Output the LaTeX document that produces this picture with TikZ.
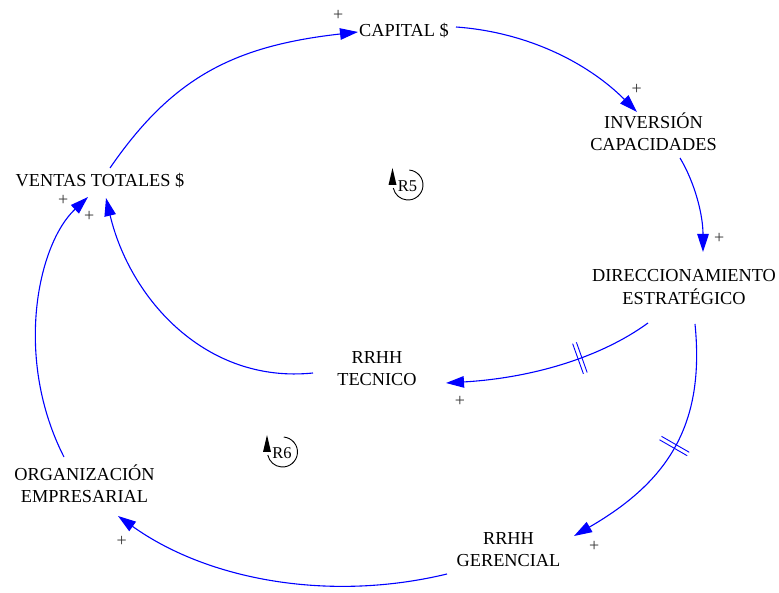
\documentclass[tikz,border=0pt]{standalone}
\usepackage{fontspec}
\setmainfont{Liberation Serif}
\usetikzlibrary{arrows.meta,decorations.markings}

\begin{document}
\begin{tikzpicture}[x=1pt,y=1pt,
  var/.style={font=\fontsize{18.3}{22.5}\selectfont, align=center, inner sep=0pt,
    text height=12.1pt, text=black},
  var2/.style={var, text height=34.6pt},
  link/.style={draw=blue, line width=1.1pt, -{Triangle[length=18pt,width=11.5pt]}},
  delay/.style={postaction={decorate, decoration={markings,
    mark=at position #1 with {\draw[-, blue, line width=0.9pt]
      (-2pt,-16pt) -- (-2pt,16pt) (2pt,-16pt) -- (2pt,16pt);}}}},
  pol/.style={font=\fontsize{18}{18}\selectfont, text=black!80, inner sep=0pt},
  looplbl/.style={font=\fontsize{16.5}{16.5}\selectfont, inner sep=0pt, text=black},
  loopline/.style={draw=black, line width=0.9pt}
]
\useasboundingbox (0,0) rectangle (779,592);

% variables
\node[var]  (capital)   at (404,561)     {CAPITAL \$};
\node[var2] (inversion) at (653.5,458.5) {INVERSIÓN\\CAPACIDADES};
\node[var]  (ventas)    at (100,410.5)   {VENTAS TOTALES \$};
\node[var2] (direcc)    at (684,305)     {DIRECCIONAMIENTO\\ESTRATÉGICO};
\node[var2] (tecnico)   at (377,223.5)   {RRHH\\TECNICO};
\node[var2] (organiz)   at (84.5,106.5)  {ORGANIZACIÓN\\EMPRESARIAL};
\node[var2] (gerencial) at (508.5,42.5)  {RRHH\\GERENCIAL};

% link end points, placed relative to the variables
\coordinate (s1) at ([shift={(10,13.5)}]ventas.center);
\coordinate (e1) at ([shift={(-46,-1)}]capital.center);
\coordinate (s2) at ([shift={(52,4)}]capital.center);
\coordinate (e2) at ([shift={(-16.5,21.5)}]inversion.center);
\coordinate (s3) at ([shift={(26.5,-24.5)}]inversion.center);
\coordinate (e3) at ([shift={(19,35)}]direcc.center);
\coordinate (s4) at ([shift={(-36,-36)}]direcc.center);
\coordinate (e4) at ([shift={(69,-14.5)}]tecnico.center);
\coordinate (s5) at ([shift={(11,-37)}]direcc.center);
\coordinate (e5) at ([shift={(65.5,13.5)}]gerencial.center);
\coordinate (s6) at ([shift={(-64,-4.5)}]tecnico.center);
\coordinate (e6) at ([shift={(6,-16.5)}]ventas.center);
\coordinate (s7) at ([shift={(-20.5,28.5)}]organiz.center);
\coordinate (e7) at ([shift={(-12,-15.5)}]ventas.center);
\coordinate (s8) at ([shift={(-61.5,-24.5)}]gerencial.center);
\coordinate (e8) at ([shift={(33.5,-30.5)}]organiz.center);

% causal links
\draw[link] (s1) .. controls ([shift={(62,90)}]s1) and ([shift={(-125,-14)}]e1) .. (e1);
\draw[link] (s2) .. controls ([shift={(70,-5)}]s2) and ([shift={(-50,50)}]e2) .. (e2);
\draw[link] (s3) .. controls ([shift={(15,-25)}]s3) and ([shift={(0,37)}]e3) .. (e3);
\draw[link, delay=0.36] (s4) .. controls ([shift={(-48,-35)}]s4) and ([shift={(85,5)}]e4) .. (e4);
\draw[link, delay=0.48] (s5) .. controls ([shift={(10,-100)}]s5) and ([shift={(95,55)}]e5) .. (e5);
\draw[link] (s6) .. controls ([shift={(-107,-11)}]s6) and ([shift={(24,-101)}]e6) .. (e6);
\draw[link] (s7) .. controls ([shift={(-50,98)}]s7) and ([shift={(-51,-48)}]e7) .. (e7);
\draw[link] (s8) .. controls ([shift={(-116,-28)}]s8) and ([shift={(91,-65)}]e8) .. (e8);

% link polarities
\node[pol] (p1) at (338.3,577)   {+};
\node[pol] (p2) at (636.7,503)   {+};
\node[pol] (p3) at (719.3,353.7) {+};
\node[pol] (p4) at (460,190.3)   {+};
\node[pol] (p5) at (594.3,45.3)  {+};
\node[pol] (p6) at (121.7,50.3)  {+};
\node[pol] (p7) at (63.3,392)    {+};
\node[pol] (p8) at (89.3,375.3)  {+};

% loop identifiers
\node[looplbl] (r5) at (407.5,406) {R5};
\draw[loopline] (408,407) ++(85:15) arc[start angle=85, end angle=-168, radius=15];
\fill (388.5,407) -- (396.5,407) -- (392.5,424) -- cycle;

\node[looplbl] (r6) at (282,139) {R6};
\draw[loopline] (282.5,140) ++(85:15) arc[start angle=85, end angle=-168, radius=15];
\fill (263,140) -- (271,140) -- (267,157) -- cycle;
\end{tikzpicture}
\end{document}
